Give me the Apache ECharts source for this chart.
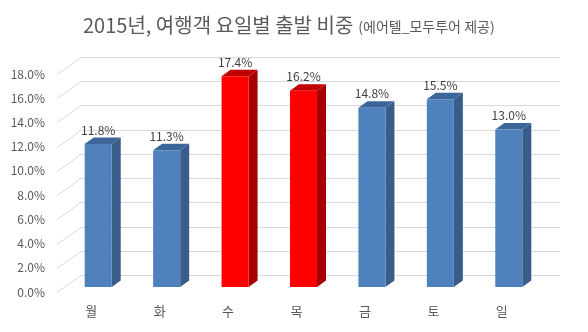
<!DOCTYPE html>
<html>
<head>
<meta charset="utf-8">
<script src="https://cdn.jsdelivr.net/npm/echarts@6/dist/echarts.min.js"></script>
<style>
html,body{margin:0;padding:0;background:#fff;}
#c{width:588px;height:332px;}
</style>
</head>
<body>
<div id="c"></div>
<script>
const days = ['월', '화', '수', '목', '금', '토', '일'];
const shares = [11.8, 11.3, 17.4, 16.2, 14.8, 15.5, 13.0];
const highlighted = ['수', '목'];
const yTicks = [0, 2, 4, 6, 8, 10, 12, 14, 16, 18];
const titleMain = '2015년, 여행객 요일별 출발 비중';
const titleSub = '(에어텔_모두투어 제공)';

const FONT = "'Noto Sans CJK KR', 'Noto Sans', sans-serif";
const DEPTH = [24, -17];
const BAR_OFF = [7, -5];
const BAR_DEPTH = [9, -6.5];
const GRID_COLOR = '#d9d9d9';
const BLUE = { front: '#4F81BD', side: '#385D8A', top: '#3C6699' };
const RED = { front: '#FF0000', side: '#A80000', top: '#C00000' };

const chart = echarts.init(document.getElementById('c'), null, { renderer: 'canvas' });

function renderWall(params, api) {
  const cs = params.coordSys;
  const p = api.coord([0, api.value(1)]);
  const y = Math.round(p[1]) + 0.5;
  const x0 = cs.x, x1 = cs.x + cs.width;
  const yb = Math.round(p[1] + DEPTH[1]) + 0.5;
  const st = { stroke: GRID_COLOR, lineWidth: 1, fill: null };
  return {
    type: 'group',
    children: [
      { type: 'line', shape: { x1: x0, y1: y, x2: x0 + DEPTH[0], y2: yb }, style: st },
      { type: 'line', shape: { x1: x0 + DEPTH[0], y1: yb, x2: x1 + DEPTH[0], y2: yb }, style: st }
    ]
  };
}

function renderBar(params, api) {
  const i = api.value(0), v = api.value(1);
  const top = api.coord([i, v]);
  const base = api.coord([i, 0]);
  const w = api.size([1, 0])[0] * 0.395;
  const cx = top[0] + BAR_OFF[0];
  const xl = cx - w / 2, xr = cx + w / 2;
  const yt = top[1] + BAR_OFF[1], yb = base[1] + BAR_OFF[1];
  const dx = BAR_DEPTH[0], dy = BAR_DEPTH[1];
  const c = highlighted.indexOf(days[i]) >= 0 ? RED : BLUE;
  return {
    type: 'group',
    children: [
      { type: 'polygon', shape: { points: [[xr, yt], [xr + dx, yt + dy], [xr + dx, yb + dy], [xr, yb]] }, style: { fill: c.side } },
      { type: 'polygon', shape: { points: [[xl, yt], [xl + dx, yt + dy], [xr + dx, yt + dy], [xr, yt]] }, style: { fill: c.top } },
      { type: 'rect', shape: { x: xl, y: yt, width: w, height: yb - yt }, style: { fill: c.front } },
      { type: 'text', x: cx, y: yt - 14, style: { text: v.toFixed(1) + '%', fill: '#404040', font: '12px ' + FONT, align: 'center', verticalAlign: 'middle' } }
    ]
  };
}

chart.setOption({
  animation: false,
  title: {
    left: 78,
    top: 10,
    text: '{a|' + titleMain + '} {b|' + titleSub + '}',
    textStyle: {
      fontWeight: 'normal',
      rich: {
        a: { fontSize: 20, color: '#595959', fontFamily: FONT, fontWeight: 'normal' },
        b: { fontSize: 14, color: '#595959', fontFamily: FONT, fontWeight: 'normal', padding: [3, 0, 0, 0] }
      }
    }
  },
  grid: { left: 57, right: 52, top: 74, bottom: 40 },
  xAxis: {
    type: 'category',
    data: days,
    axisLine: { show: false },
    axisTick: { show: false },
    axisLabel: { color: '#595959', fontSize: 13, fontFamily: FONT, margin: 13 }
  },
  yAxis: {
    type: 'value',
    min: 0,
    max: 18,
    interval: 2,
    axisLine: { show: false },
    axisTick: { show: false },
    splitLine: { show: false },
    axisLabel: { color: '#595959', fontSize: 12, fontFamily: FONT, margin: 12, formatter: v => v.toFixed(1) + '%' }
  },
  series: [
    { type: 'custom', renderItem: renderWall, data: yTicks.map(t => [0, t]), z: 1, silent: true },
    { type: 'custom', renderItem: renderBar, data: shares.map((v, i) => [i, v]), z: 2 }
  ]
});
</script>
</body>
</html>
